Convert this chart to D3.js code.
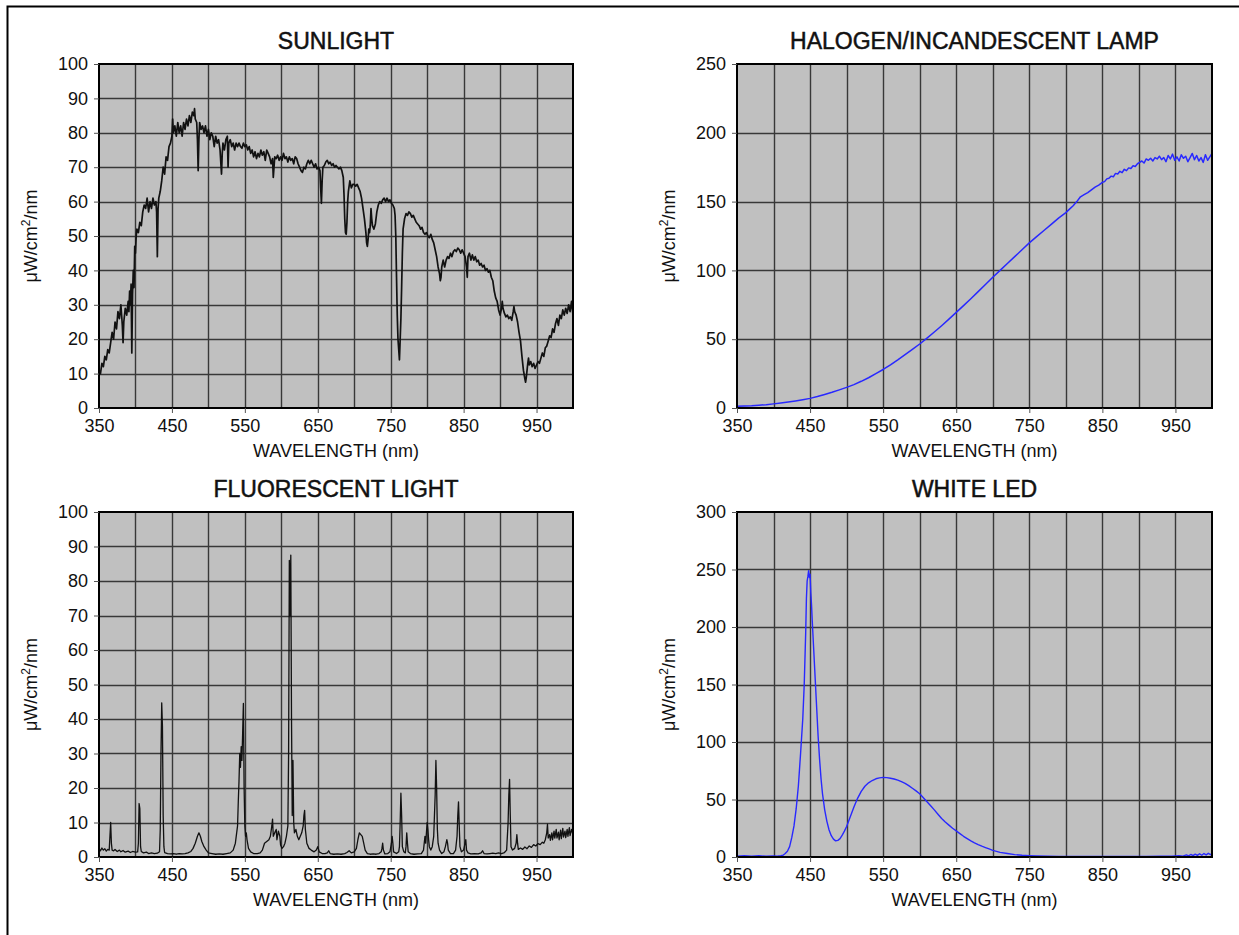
<!DOCTYPE html>
<html>
<head>
<meta charset="utf-8">
<script src="https://cdn.jsdelivr.net/npm/d3@7"></script>
<style>
  body { margin: 0; background: #fff; }
  svg text { font-family: "Liberation Sans", Arial, sans-serif; fill: #111; }
</style>
</head>
<body>
<script>
// Spektren: [Wellenlänge nm, µW/cm²/nm]
const sunlight = [
  [350,11],[352,10],[354,13],[356,12],[358,15],[360,14],[362,17],[364,16],[366,19],[368,22],[370,20],[372,25],[374,23],[376,28],[378,26],[380,30],
  [381,27],[382,24],[383,19],[384,25],[386,29],[388,27],[390,31],[391,28],[392,34],[393,30],[394,36],[395,16],[396,33],[397,40],[398,35],[399,47],
  [400,45],[401,50],[402,52],[404,51],[406,54],[408,53],[410,57],[412,59],[414,58],[416,61],[418,57],[420,60],[422,58],[424,61],[426,59],[428,60],
  [429,57],[430,44],[431,58],[432,61],[434,63],[436,66],[438,70],[440,68],[442,73],[444,72],[446,76],[448,77],[450,79],[451,84],[452,80],[454,82],
  [456,79],[458,83],[460,80],[462,82],[464,79],[466,83],[468,81],[470,84],[472,82],[474,85],[476,83],[478,86],[480,85],[481,87],[482,84],[484,83],
  [485,78],[486,69],[487,78],[488,83],[490,81],[492,82],[494,80],[496,82],[498,79],[500,81],[502,78],[504,80],[506,79],[508,76],[510,79],[512,77],
  [514,78],[516,75],[518,68],[519,74],[520,77],[522,75],[524,78],[526,79],[527,70],[528,77],[530,78],[532,76],[534,77],[536,75],[538,77],[540,76],
  [542,77],[544,76],[546,75.5],[548,77],[550,76],[552,76.5],[554,75],[556,76],[558,74],[560,75],[562,73],[564,74.5],[566,72.5],[568,74],[570,73],
  [572,75],[574,73.5],[576,74.5],[578,72],[580,75],[582,74],[584,73],[586,71],[588,72.5],[589,67],[590,70],[591,73],[593,72.5],[595,73.5],[597,72],
  [599,73],[601,72],[603,74],[605,72.5],[607,73],[609,71.5],[611,73],[613,72],[615,72.5],[617,71],[619,73],[621,72.5],[623,71],[625,70],[627,69],
  [629,68.5],[631,70],[633,69.5],[635,71],[637,72],[639,71],[641,72],[643,71],[645,70],[647,71],[649,69.5],[651,70],[653,69],[654,64],[655,59.5],
  [656,66],[657,70],[659,70.5],[661,71.5],[663,72],[665,71],[667,71.5],[669,70.5],[671,71],[673,70],[675,70.5],[677,70],[679,69.5],[681,70],[683,69],
  [685,67],[686,62],[687,55],[688,51],[689,50.5],[690,54],[691,60],[692,63],[694,66],[696,64],[698,65],[700,65],[702,64.5],[704,65],[706,64],[708,63],
  [710,61],[712,58],[714,55],[716,51],[717,48],[718,47],[719,49],[720,52],[721,51],[722,53],[723,58],[724,55],[725,53],[727,52],[729,53.5],[731,57],
  [733,59],[735,60],[737,59.5],[739,60.5],[741,61],[743,60],[745,61],[747,60],[749,60.5],[751,59.5],[753,59],[755,58],[756,56],[757,50],[758,38],
  [759,27],[760,20],[761,17],[762,14],[763,20],[764,26],[765,35],[766,45],[767,52],[769,55],[771,56.5],[773,56],[775,57],[777,56.5],[779,55.5],
  [781,56],[783,55],[785,54],[787,53.5],[789,53],[791,52],[793,52.5],[795,51],[797,50.5],[799,51],[801,50],[803,49.5],[805,50.5],[807,49],[809,48],
  [811,46],[813,44],[815,41],[817,39],[818,37],[819,38],[820,41],[822,43],[824,41],[826,43],[828,44],[830,43.5],[832,45],[834,44],[836,45.5],
  [838,46],[840,45.5],[842,46.5],[844,46],[846,45],[848,46],[850,45],[852,44],[854,41],[855,38],[856,44],[858,45],[860,43],[862,44.5],[864,43],
  [866,44],[868,42.5],[870,43],[872,41.5],[874,42],[876,41],[878,41.5],[880,40],[882,40.5],[884,39.5],[886,40],[888,38],[890,37],[892,34],[894,32],
  [896,31],[898,28.5],[900,27],[902,29],[903,31],[904,29],[906,27.5],[908,26.5],[910,27],[912,26],[914,26.5],[916,25.5],[918,28],[919,29.5],[920,28],
  [922,27],[924,25],[926,22],[928,19.5],[930,15],[932,11],[934,8.5],[935,7.5],[936,9],[937,11],[938,13],[939,14.5],[940,12.5],[942,13.5],[944,12],
  [946,13],[948,11.5],[950,12.5],[952,13.5],[954,13],[956,14.5],[958,16],[960,15],[962,17.5],[964,18],[966,19.5],[968,21],[970,20.5],[972,23],
  [974,22],[976,24.5],[978,26],[980,24],[982,27],[984,26],[986,28.5],[988,27],[990,29],[992,27.5],[994,30],[996,28],[998,31],[1000,27]
];

const halogen = [
  [350,1.2],[360,1.4],[370,1.6],[380,2],[390,2.4],[400,3],[410,3.6],[420,4.3],[430,5.1],[440,6],[450,7],[460,8.3],[470,9.8],[480,11.4],[490,13.2],
  [500,15],[510,17],[520,19.4],[530,22],[540,25],[550,28],[560,31.4],[570,35],[580,38.8],[590,42.6],[600,46.5],[610,50.8],[620,55.2],[630,59.8],
  [640,64.6],[650,69.5],[660,74.4],[670,79.4],[680,84.6],[690,89.8],[700,95],[710,100],[720,105],[730,110],[740,115],[750,120],[760,124.5],[770,129],
  [780,133.5],[790,138],[800,142],[805,144.5],[810,147],[815,150],[820,153.5],[825,155],[830,156.5],[835,158.5],[840,160.5],[845,162],[850,164],
  [853,164.5],[856,166.5],[859,167],[862,168.5],[865,168],[868,170.5],[871,170],[874,172],[877,171],[880,173.5],[883,172.5],[886,174.5],
  [889,174],[892,176],[895,175.5],[898,177.5],[901,178.5],[904,179.5],[907,178],[910,181],[913,180],[916,181.5],[919,179.5],[922,182],
  [925,181],[928,183],[931,180.5],[934,182],[937,179],[940,183.5],[943,181],[946,184.5],[949,180],[952,182.5],[955,179.5],[958,184],
  [961,181.5],[964,183],[967,179],[970,182],[973,185],[976,180.5],[979,183.5],[982,179.5],[985,182],[988,178.5],[991,184],[994,180],
  [997,182.5],[1000,185]
];

const fluorescent = [
  [350,2.5],[352,1.8],[354,2.6],[356,2],[358,2.4],[360,1.7],[362,2.2],[364,2],[365,6],[366,10],[367,4],[368,2],[370,1.8],[372,2.2],[375,1.6],[378,2],
  [380,1.5],[383,1.9],[386,1.4],[390,1.7],[393,1.3],[396,1.6],[400,1.4],[403,1.5],[404,4],[405,15.5],[406,14],[407,3],[408,1.6],[411,1.2],[415,1.4],
  [418,1],[422,1.2],[426,1],[430,1.1],[433,1.5],[434,8],[435,30],[436,44.7],[437,38],[438,12],[439,3],[440,1.3],[444,1],[448,0.9],[452,1],[456,0.8],
  [460,1],[464,0.9],[468,1],[472,1.2],[476,1.6],[479,2.5],[482,4],[485,6],[487,7],[489,6],[491,4.5],[494,3],[497,2],[500,1.2],[505,1],[510,0.8],
  [515,0.9],[520,0.8],[525,1],[530,1.2],[534,2],[537,4],[540,9],[541,16],[542,22],[543,30],[544,26],[545,32],[546,28],[547,36],[548,44.5],[549,20],
  [550,9],[551,6],[552,7],[553,5],[555,2.5],[558,1.5],[562,1],[567,1],[571,1.2],[574,2],[577,4],[580,4.5],[583,5],[585,6],[587,9],[588,11],[589,6],
  [591,7],[593,8],[594,5],[596,7.5],[598,6],[599,3.5],[601,2.5],[603,3],[605,4],[607,6],[609,9],[610,30],[611,86],[612,70],[613,87.5],[614,40],
  [615,12],[616,28],[617,10],[618,7],[620,8],[622,6],[624,5],[626,6],[628,7],[630,9],[631,12],[632,13.5],[633,8],[635,4],[638,2.5],[641,2],[645,1.5],
  [648,2],[650,3],[652,1.5],[656,1],[660,1],[663,1.2],[665,1.8],[667,1],[672,0.8],[677,0.9],[682,0.8],[687,1],[690,1.3],[693,1.8],[696,1.2],
  [700,1.5],[703,2.5],[705,5],[707,7],[709,6.5],[711,6],[713,4],[715,2],[718,1],[722,0.8],[726,0.9],[730,0.8],[734,1],[737,1.5],[738,2.5],
  [739,4],[740,2],[742,0.9],[746,1],[749,1.5],[751,4],[752,6],[753,4],[754,1.5],[758,1],[761,1.5],[762,3],[763,10],[764,18.5],[765,12],[766,3],
  [768,1.5],[770,1.2],[771,3],[772,7],[773,4],[774,1.5],[777,1],[782,0.8],[787,0.9],[792,1],[795,2],[797,6],[798,4],[799,7],[800,10],[801,8],
  [802,5],[803,3],[805,2],[807,3],[809,6],[811,18],[812,28],[813,20],[814,8],[815,4],[817,2],[820,1],[823,1.5],[825,3],[827,5],[828,4],[829,2],
  [832,1],[836,1],[839,2],[841,6],[842,12],[843,16],[844,9],[845,3],[847,1.5],[850,2],[852,4],[853,5],[854,2],[856,1.2],[860,0.9],[865,1],[870,0.9],
  [874,1.2],[876,1.8],[878,1],[882,0.9],[886,1],[890,1.1],[894,1],[898,1.2],[902,1],[906,1.3],[909,2],[911,10],[912,18],[913,22.5],[914,12],
  [915,3],[917,2],[920,2.5],[922,4],[923,6.5],[924,4],[925,2.2],[928,2.6],[931,2.2],[934,2.9],[937,2.4],[940,3.2],[943,2.8],[946,3.6],[949,3.2],
  [952,3.9],[955,3.6],[958,4.3],[960,4],[962,5],[964,7],[965,9.5],[966,5.5],[968,6.5],[969,4.8],[971,7],[972,5],[974,7.5],[975,5.5],[977,8],
  [978,5.5],[980,7.2],[981,5],[983,7.8],[984,5.3],[986,8.3],[987,5.8],[989,7.5],[990,5.6],[992,8],[993,6],[995,8.5],[996,6.2],[998,8],[1000,6.5]
];

const whiteLed = [
  [350,0.8],[360,1.2],[370,0.7],[380,1.1],[390,0.6],[400,1],[405,0.8],[410,1.2],[413,1.5],[416,3],[419,5],[422,9],[425,17],[428,27],[431,42],
  [434,62],[437,90],[440,120],[442,150],[444,195],[445,225],[446,240],[447,244],[448,249],[449,243],[450,246],[451,230],[452,219],[453,205],
  [455,180],[457,155],[459,130],[461,105],[463,85],[465,68],[467,55],[470,41],[473,31],[476,23.5],[479,18.5],[482,15.5],[485,14],[488,14.5],
  [491,16],[494,19],[497,22.5],[500,26.5],[505,35],[510,43.5],[515,51],[520,57],[525,61.5],[530,64.5],[535,66.5],[540,68],[545,68.8],[550,69.2],
  [555,69],[560,68.5],[565,67.8],[570,66.8],[575,65.5],[580,64],[585,62],[590,59.8],[595,57.5],[600,55],[605,51.5],[610,48],[615,44.5],[620,41],
  [625,37.2],[630,33.5],[635,30.5],[640,27.7],[645,25],[650,22.7],[655,20.3],[660,18],[665,16],[670,14],[675,12.3],[680,10.8],[685,9.4],[690,8.2],
  [695,7],[700,5.8],[710,4],[720,3],[730,2.1],[740,1.5],[750,1.2],[760,0.9],[775,0.6],[790,0.5],[810,0.4],[830,0.5],[850,0.4],[870,0.5],[890,0.4],
  [910,0.5],[930,0.6],[945,0.8],[955,1.2],[960,0.8],[965,1.8],[968,1],[971,2.2],[974,1.2],[977,2.5],[980,1.4],[983,2.8],[986,1.5],[989,3],
  [992,1.8],[995,3.2],[998,2],[1000,3]
];

// Achsen-Beschriftungen
const xTickLabels = [350, 450, 550, 650, 750, 850, 950];
const xGrid = [400, 450, 500, 550, 600, 650, 700, 750, 800, 850, 900, 950];
const ticks100 = [0, 10, 20, 30, 40, 50, 60, 70, 80, 90, 100];
const ticks250 = [0, 50, 100, 150, 200, 250];
const ticks300 = [0, 50, 100, 150, 200, 250, 300];

const svg = d3.select("body").append("svg")
    .attr("width", 1239)
    .attr("height", 935);

// Rahmen links und oben
svg.append("path")
    .attr("d", "M7.5,935 V6.5 H1239")
    .attr("fill", "none")
    .attr("stroke", "#000")
    .attr("stroke-width", 2);

const panels = [
  {title: "SUNLIGHT", data: sunlight, yMax: 100, yTicks: ticks100, color: "#111", lw: 1.7, left: 99, top: 64, right: 573, bottom: 408},
  {title: "HALOGEN/INCANDESCENT LAMP", data: halogen, yMax: 250, yTicks: ticks250, color: "#2828ff", lw: 1.5, left: 737, top: 64, right: 1212, bottom: 408},
  {title: "FLUORESCENT LIGHT", data: fluorescent, yMax: 100, yTicks: ticks100, color: "#111", lw: 1.3, left: 99, top: 512, right: 573, bottom: 857},
  {title: "WHITE LED", data: whiteLed, yMax: 300, yTicks: ticks300, color: "#2828ff", lw: 1.4, left: 737, top: 512, right: 1212, bottom: 857}
];

panels.forEach(drawPanel);

function drawPanel(p) {
    const w = p.right - p.left,
          h = p.bottom - p.top;

    const g = svg.append("g")
        .attr("transform", `translate(${p.left},${p.top})`);

    const x = d3.scaleLinear().domain([350, 1000]).range([0, w]);
    const y = d3.scaleLinear().domain([0, p.yMax]).range([h, 0]);

    // Hintergrund
    g.append("rect")
        .attr("width", w)
        .attr("height", h)
        .attr("fill", "#c0c0c0");

    // Gitternetz
    g.selectAll(".vgrid")
        .data(xGrid)
        .join("line")
        .attr("x1", d => Math.round(x(d)) + 0.5)
        .attr("x2", d => Math.round(x(d)) + 0.5)
        .attr("y1", 0)
        .attr("y2", h)
        .attr("stroke", "#383838")
        .attr("stroke-width", 1.4);

    g.selectAll(".hgrid")
        .data(p.yTicks.slice(1, -1))
        .join("line")
        .attr("x1", 0)
        .attr("x2", w)
        .attr("y1", d => Math.round(y(d)) + 0.5)
        .attr("y2", d => Math.round(y(d)) + 0.5)
        .attr("stroke", "#383838")
        .attr("stroke-width", 1.4);

    // Kurve
    const line = d3.line()
        .x(d => x(d[0]))
        .y(d => y(d[1]));

    g.append("path")
        .datum(p.data)
        .attr("d", line)
        .attr("fill", "none")
        .attr("stroke", p.color)
        .attr("stroke-width", p.lw)
        .attr("stroke-linejoin", "round");

    // Rahmen
    g.append("rect")
        .attr("width", w)
        .attr("height", h)
        .attr("fill", "none")
        .attr("stroke", "#000")
        .attr("stroke-width", 2);

    // Achsen
    const xAxis = g.append("g")
        .attr("transform", `translate(0,${h})`)
        .call(d3.axisBottom(x).tickValues(xTickLabels).tickSize(5).tickPadding(6));
    const yAxis = g.append("g")
        .call(d3.axisLeft(y).tickValues(p.yTicks).tickSize(5).tickPadding(6));

    [xAxis, yAxis].forEach(a => {
        a.select(".domain").remove();
        a.selectAll("line").attr("stroke", "#555");
        a.selectAll("text")
            .style("font-family", "'Liberation Sans', Arial, sans-serif")
            .style("font-size", "18px")
            .attr("fill", "#111");
    });

    // Titel
    g.append("text")
        .attr("x", w / 2)
        .attr("y", -15)
        .attr("text-anchor", "middle")
        .style("font-size", "23px")
        .attr("stroke", "#111")
        .attr("stroke-width", 0.5)
        .text(p.title);

    // X-Beschriftung
    g.append("text")
        .attr("x", w / 2)
        .attr("y", h + 49)
        .attr("text-anchor", "middle")
        .style("font-size", "18px")
        .text("WAVELENGTH (nm)");

    // Y-Beschriftung
    const yl = g.append("text")
        .attr("transform", `translate(-62,${h / 2}) rotate(-90)`)
        .attr("text-anchor", "middle")
        .style("font-size", "18px");
    yl.append("tspan").text("μW/cm");
    yl.append("tspan").attr("dy", -7).style("font-size", "12px").text("2");
    yl.append("tspan").attr("dy", 7).text("/nm");
}
</script>
</body>
</html>
